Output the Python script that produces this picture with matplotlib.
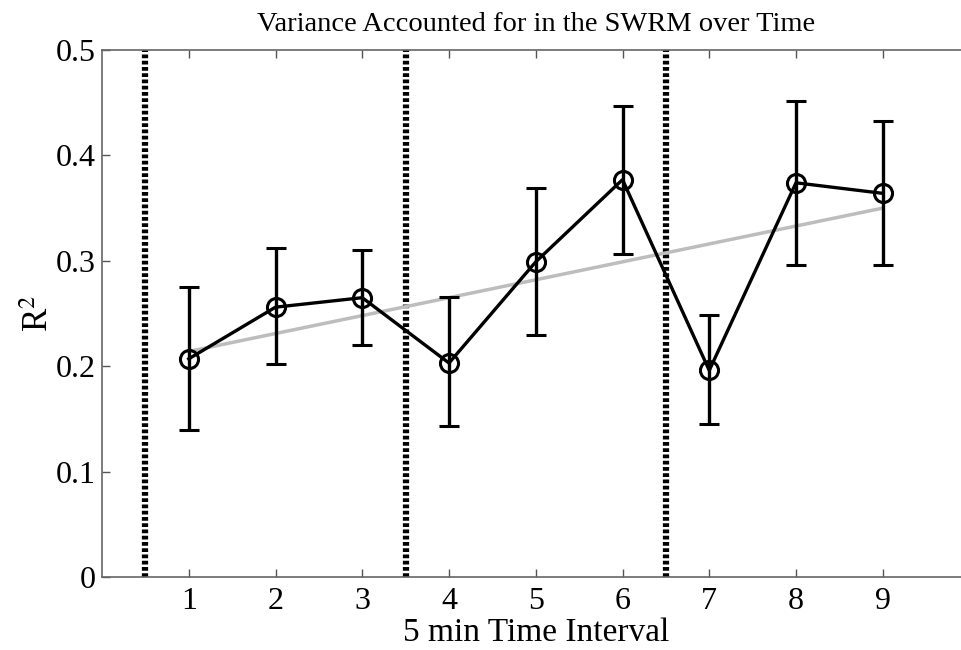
import matplotlib
matplotlib.use("Agg")
import matplotlib.pyplot as plt
import numpy as np

# data
intervals = [1, 2, 3, 4, 5, 6, 7, 8, 9]
r2        = [0.207, 0.256, 0.265, 0.203, 0.299, 0.377, 0.196, 0.374, 0.364]
err_hi    = [0.275, 0.312, 0.310, 0.266, 0.369, 0.447, 0.249, 0.452, 0.433]
err_lo    = [0.139, 0.202, 0.220, 0.143, 0.230, 0.306, 0.145, 0.296, 0.296]
trend_x   = [1, 9]
trend_y   = [0.214, 0.350]
breaks    = [0.5, 3.5, 6.5]

plt.rcParams['font.family'] = ['Liberation Serif', 'DejaVu Serif']
plt.rcParams['mathtext.fontset'] = 'stix'


def main():
    fig = plt.figure(figsize=(9.61, 6.5), dpi=100)
    ax = fig.add_axes([102 / 961, 73 / 650, 867.5 / 961, 527 / 650])

    r2_a = np.array(r2)
    yerr = [r2_a - np.array(err_lo), np.array(err_hi) - r2_a]

    for b in breaks:
        ax.axvline(b, color="black", linestyle=(0, (0.6, 0.4)), linewidth=4.5, zorder=1)

    ax.plot(trend_x, trend_y, color="#bdbdbd", linewidth=2.5, zorder=2)

    ax.errorbar(intervals, r2, yerr=yerr, color="black", linewidth=2.4,
                elinewidth=2.4, capsize=7, capthick=2.4,
                marker="o", markersize=13, markerfacecolor="none",
                markeredgewidth=2.2, markeredgecolor="black", zorder=3)

    ax.set_xlim(0, 10)
    ax.set_ylim(0, 0.5)
    ax.set_xticks(intervals)
    ax.set_yticks([0, 0.1, 0.2, 0.3, 0.4, 0.5])
    ax.set_yticklabels(["0", "0.1", "0.2", "0.3", "0.4", "0.5"])
    ax.tick_params(direction="in", top=True, right=True, length=6,
                   width=1, color="#555555", labelsize=23)
    ax.tick_params(axis="y", pad=4.5)
    ax.tick_params(axis="x", pad=7)
    for s in ax.spines.values():
        s.set_color("#666666")
        s.set_linewidth(1.2)

    ax.set_xlabel("5 min Time Interval", fontsize=24, labelpad=1)
    ax.set_ylabel("R$^2$", fontsize=25, labelpad=0)
    ax.set_title("Variance Accounted for in the SWRM over Time", fontsize=20.5, pad=14)

    fig.savefig("out.png", dpi=100)


if __name__ == '__main__':
    main()
